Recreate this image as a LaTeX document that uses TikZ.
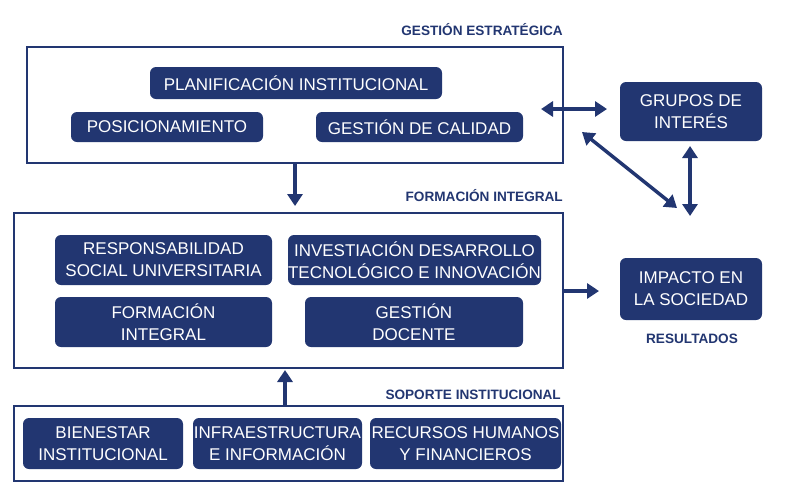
\documentclass[tikz,border=0pt]{standalone}
\usepackage{fontspec}
\setmainfont{Liberation Sans}
\usetikzlibrary{arrows.meta}
\definecolor{navy}{HTML}{223671}
\tikzset{
  pill/.style={fill=navy, rounded corners=6pt, text=white, align=center, inner sep=0pt,
    font=\fontsize{17}{22}\selectfont},
  frame/.style={draw=navy, line width=1.3pt},
  lbl/.style={text=navy, font=\bfseries\fontsize{13.6}{15}\selectfont, inner sep=0pt},
  arr/.style={draw=navy, line width=3.5pt, -{Triangle[width=15pt,length=12pt]}},
  darr/.style={draw=navy, line width=3.5pt, {Triangle[width=15pt,length=12pt]}-{Triangle[width=15pt,length=12pt]}},
}
\begin{document}
\begin{tikzpicture}[x=1pt,y=-1pt]
\useasboundingbox (0,0) rectangle (795,491);
% frames
\draw[frame] (27,47) rectangle (563,163);
\draw[frame] (14,213) rectangle (563,368);
\draw[frame] (14,406) rectangle (563,481);
\coordinate (f1s) at (295,163);
\coordinate (f2n) at (295,206);
\coordinate (f3n) at (285,405);
\coordinate (f2s) at (285,370);
\coordinate (f2e) at (563,291);
\coordinate (ie) at (599,291);
\coordinate (h1) at (541,109);
\coordinate (h2) at (607,109);
\coordinate (d1) at (582,132);
\coordinate (d2) at (677,208);
\coordinate (v1) at (690,146);
\coordinate (v2) at (690,216);
% labels
\node[lbl, anchor=east] (lgest) at (563,30) {GESTIÓN ESTRATÉGICA};
\node[lbl, anchor=east] (lform) at (563,196) {FORMACIÓN INTEGRAL};
\node[lbl, anchor=east] (lsop) at (561,395) {SOPORTE INSTITUCIONAL};
\node[lbl] (lres) at (692,339) {RESULTADOS};
% gestion
\node[pill, minimum width=292pt, minimum height=32pt] (plan) at (296,83) {PLANIFICACIÓN INSTITUCIONAL};
\node[pill, minimum width=192pt, minimum height=30pt] (pos) at (167,127) {POSICIONAMIENTO};
\node[pill, minimum width=207pt, minimum height=30pt] (cal) at (419.5,127) {GESTIÓN DE CALIDAD};
% formacion
\node[pill, minimum width=217pt, minimum height=50pt] (rsu) at (163.5,260) {RESPONSABILIDAD\\SOCIAL UNIVERSITARIA};
\node[pill, minimum width=253pt, minimum height=50pt] (inv) at (414.5,260) {INVESTIACIÓN DESARROLLO\\TECNOLÓGICO E INNOVACIÓN};
\node[pill, minimum width=217pt, minimum height=50pt] (fint) at (163.5,322) {FORMACIÓN\\INTEGRAL};
\node[pill, minimum width=218pt, minimum height=50pt] (doc) at (414,322) {GESTIÓN\\DOCENTE};
% soporte
\node[pill, minimum width=160pt, minimum height=51pt] (bien) at (103,443.5) {BIENESTAR\\INSTITUCIONAL};
\node[pill, minimum width=169pt, minimum height=51pt] (infra) at (277.5,443.5) {INFRAESTRUCTURA\\E INFORMACIÓN};
\node[pill, minimum width=191pt, minimum height=51pt] (rec) at (465.5,443.5) {RECURSOS HUMANOS\\Y FINANCIEROS};
% right
\node[pill, minimum width=142pt, minimum height=59pt] (grupos) at (691,111.5) {GRUPOS DE\\INTERÉS};
\node[pill, minimum width=142pt, minimum height=62pt] (imp) at (691,289) {IMPACTO EN\\LA SOCIEDAD};
% arrows
\draw[arr] (f1s) -- (f2n);
\draw[arr] (f3n) -- (f2s);
\draw[arr] (f2e) -- (ie);
\draw[darr] (h1) -- (h2);
\draw[darr] (d1) -- (d2);
\draw[darr] (v1) -- (v2);
\end{tikzpicture}
\end{document}
